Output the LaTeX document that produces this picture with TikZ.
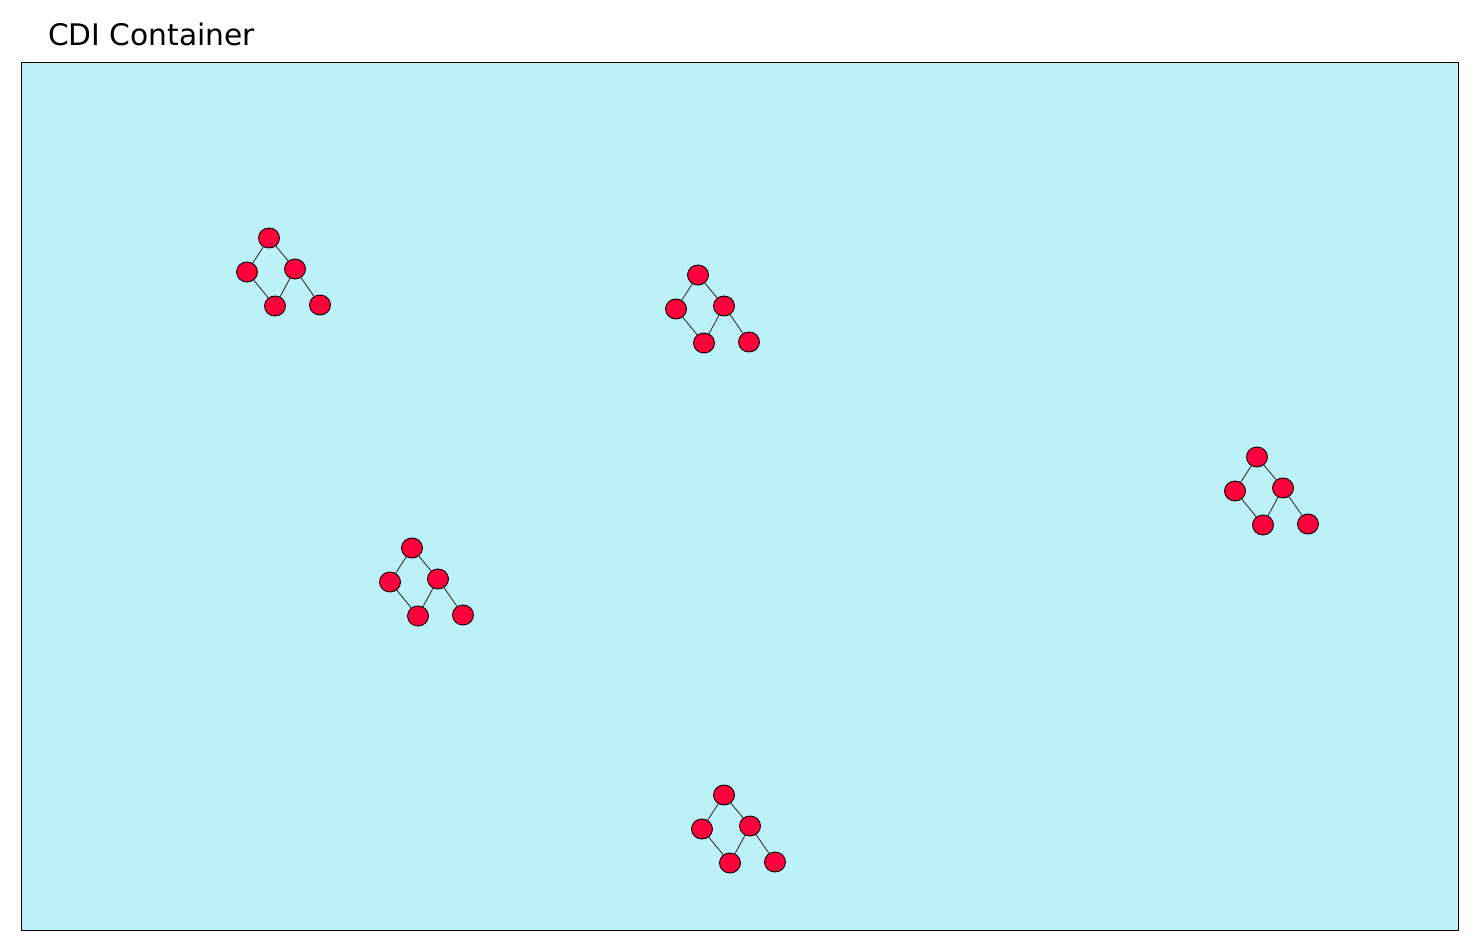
\documentclass[tikz,border=0pt]{standalone}
\usepackage{fontspec}
\setmainfont{DejaVu Sans}
\usetikzlibrary{shapes.geometric}
\definecolor{bgcyan}{RGB}{188,242,247}
\definecolor{nodered}{RGB}{255,0,60}
\begin{document}
\begin{tikzpicture}[x=1pt,y=-1pt,
  bead/.style={ellipse,draw=black,fill=nodered,line width=0.9pt,minimum width=21pt,minimum height=20pt,inner sep=0pt},
  link/.style={draw=black!80,line width=0.9pt}]
\useasboundingbox (0,0) rectangle (1478,949);
\node[draw=black,fill=bgcyan,line width=0.8pt,minimum width=1437pt,minimum height=868pt,inner sep=0pt,anchor=north west] (box) at (21,62) {};
\node[anchor=base west,inner sep=0pt,font=\fontsize{29.7}{34}\selectfont] (title) at (48,46) {CDI Container};
\foreach \n/\x/\y in {a/269/238, b/698/275, c/412/548, d/1257/457, e/724/795}{
  \node[bead] (\n1) at (\x,\y) {};
  \node[bead] (\n2) at (\x-22,\y+34) {};
  \node[bead] (\n3) at (\x+26,\y+31) {};
  \node[bead] (\n4) at (\x+6,\y+68) {};
  \node[bead] (\n5) at (\x+51,\y+67) {};
  \draw[link] (\n1) -- (\n2);
  \draw[link] (\n1) -- (\n3);
  \draw[link] (\n2) -- (\n4);
  \draw[link] (\n3) -- (\n4);
  \draw[link] (\n3) -- (\n5);
}
\end{tikzpicture}
\end{document}
